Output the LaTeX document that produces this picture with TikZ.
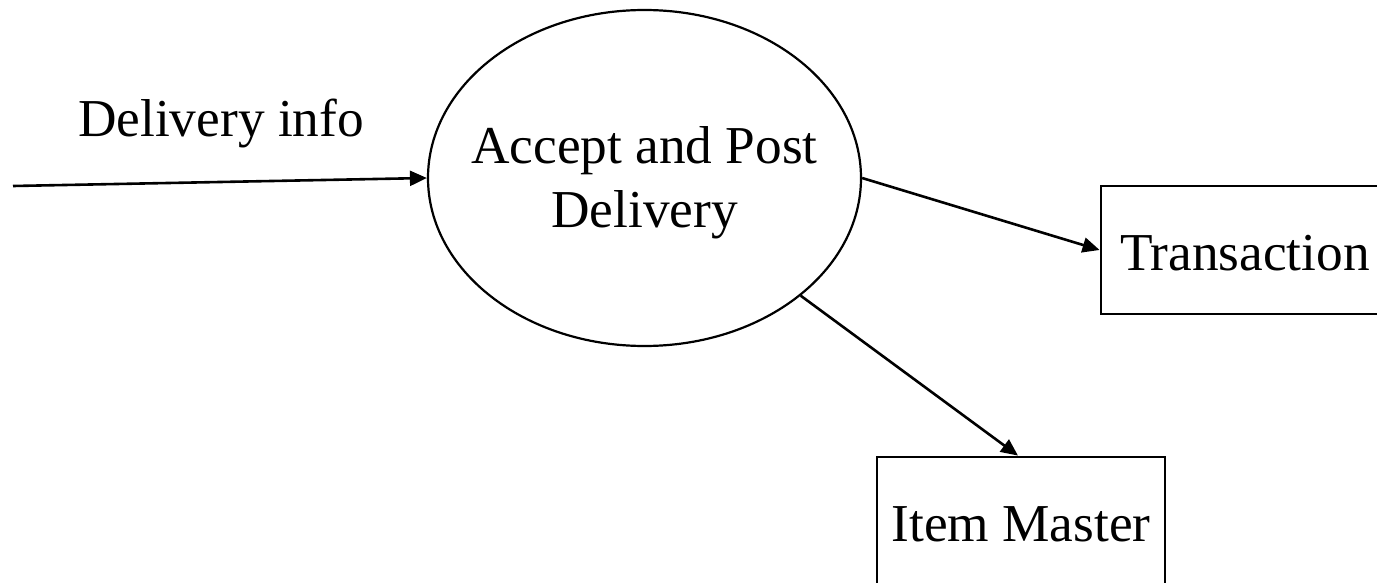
\documentclass[tikz,border=0pt]{standalone}
\usepackage{fontspec}
\setmainfont{Liberation Serif}
\usetikzlibrary{shapes.geometric,arrows.meta,calc}
\begin{document}
\begin{tikzpicture}[x=1pt,y=-1pt,
  every node/.style={font=\fontsize{53.3}{64}\selectfont},
  proc/.style={draw,ellipse,line width=2.2pt,minimum width=433pt,minimum height=336pt,inner sep=0pt},
  store/.style={draw,rectangle,line width=2.8pt,inner sep=0pt,text height=40pt,text depth=0pt},
  flow/.style={line width=2.6pt,-{Triangle[length=17pt,width=15pt]}}
]
\clip (0,0) rectangle (1377,583);
\useasboundingbox (0,0) rectangle (1377,583);
\node[proc] (proc) at (644.5,178) {};
\node[align=center,inner sep=0pt] (proclabel) at (644.5,183) {Accept and Post\\Delivery};
\node[store,minimum width=288pt,minimum height=128pt] (trans) at (1245,250) {Transaction};
\node[store,minimum width=288pt,minimum height=128pt] (item) at (1021,521) {Item Master};
\node[anchor=base west,inner sep=0pt] (dinfo) at (78,137) {Delivery info};
\coordinate (src) at (13,186);
\draw[flow] (src) -- (proc.west);
\draw[flow] (proc.east) -- (trans.west);
\draw[flow] (proc.-37) -- ($(item.north)+(-3,0)$);
\end{tikzpicture}
\end{document}
